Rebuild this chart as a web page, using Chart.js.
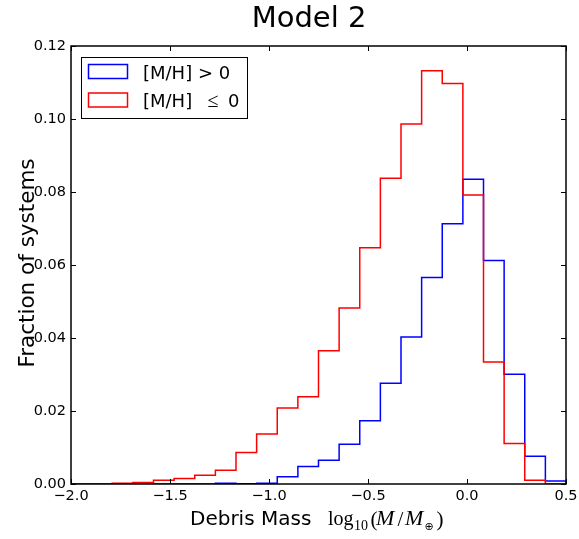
<!DOCTYPE html>
<html>
<head>
<meta charset="utf-8">
<script src="https://cdn.jsdelivr.net/npm/chart.js@4.4.0/dist/chart.umd.min.js"></script>
<style>
  body { margin: 0; background: #fff; }
  #wrap { width: 579px; height: 539px; }
</style>
</head>
<body>
<div id="wrap"><canvas id="massChart" width="579" height="539"></canvas></div>
<script>
// 24 equal bins in log10(M/Mearth) from -2.0 to 0.5
const binMin = -2.0;
const binMax = 0.5;
const binCount = 24;
const xTicks = [-2.0, -1.5, -1.0, -0.5, 0.0, 0.5];
const yTicks = [0.00, 0.02, 0.04, 0.06, 0.08, 0.10, 0.12];

// fraction of systems in each bin
const metalRich = [0, 0, 0, 0, 0, 0, 0, 0.0002, 0.0001, 0.0002, 0.0020, 0.0048,
  0.0065, 0.0109, 0.0173, 0.0276, 0.0403, 0.0566, 0.0713, 0.0835, 0.0612, 0.0301, 0.0076, 0.0008];
const metalPoor = [0, 0, 0.0002, 0.0004, 0.0010, 0.0015, 0.0024, 0.0038, 0.0086, 0.0137, 0.0208, 0.0239,
  0.0365, 0.0482, 0.0647, 0.0838, 0.0986, 0.1132, 0.1097, 0.0792, 0.0334, 0.0111, 0.0010, 0];

const binWidth = (binMax - binMin) / binCount;
const edges = Array.from({ length: binCount + 1 }, (_, i) => binMin + i * binWidth);

// outline of a step histogram: up from the baseline, across each bin, back down
function stepOutline(values) {
  const pts = [{ x: edges[0], y: 0 }];
  values.forEach((v, i) => pts.push({ x: edges[i], y: v }));
  pts.push({ x: edges[binCount], y: 0 });
  return pts;
}

const fmt = (v, d) => v.toFixed(d).replace('-', '\u2212');
const sans = 'DejaVu Sans';
const serif = 'Liberation Serif';

// inward ticks on all four sides plus the box
const axesFrame = {
  id: 'axesFrame',
  afterDatasetsDraw(chart) {
    const { ctx, chartArea: a, scales: { x, y } } = chart;
    ctx.save();
    ctx.strokeStyle = '#000';
    ctx.lineWidth = 1;
    ctx.beginPath();
    xTicks.forEach(v => {
      const px = Math.round(x.getPixelForValue(v)) + 0.5;
      ctx.moveTo(px, a.bottom); ctx.lineTo(px, a.bottom - 5);
      ctx.moveTo(px, a.top); ctx.lineTo(px, a.top + 5);
    });
    yTicks.forEach(v => {
      const py = Math.round(y.getPixelForValue(v)) + 0.5;
      ctx.moveTo(a.left, py); ctx.lineTo(a.left + 5, py);
      ctx.moveTo(a.right, py); ctx.lineTo(a.right - 5, py);
    });
    ctx.stroke();
    ctx.lineWidth = 1.5;
    ctx.strokeRect(a.left, a.top, a.right - a.left, a.bottom - a.top);
    ctx.restore();
  }
};

// x label pieces: words in sans, then log10(M/M_earth) set like TeX
const xLabelParts = [
  { t: 'Debris Mass', f: `20px "${sans}"`, dx: 0, dy: 0 },
  { t: 'log', f: `20px "${serif}"`, dx: 138, dy: 0 },
  { t: '10', f: `14px "${serif}"`, dx: 164, dy: 4.5 },
  { t: '(', f: `21px "${serif}"`, dx: 180.5, dy: 1 },
  { t: 'M', f: `italic 22px "${serif}"`, dx: 186, dy: 0 },
  { t: '/', f: `21px "${serif}"`, dx: 207.5, dy: 1 },
  { t: 'M', f: `italic 22px "${serif}"`, dx: 215, dy: 0 },
  { t: '\u2295', f: `11px "${sans}"`, dx: 234.5, dy: 5 },
  { t: ')', f: `21px "${serif}"`, dx: 246.5, dy: 1 }
];

// title, axis labels and legend
const annotations = {
  id: 'annotations',
  afterDraw(chart) {
    const { ctx, chartArea: a } = chart;
    ctx.save();
    ctx.fillStyle = '#000';

    ctx.font = `29px "${sans}"`;
    ctx.textAlign = 'center';
    ctx.textBaseline = 'alphabetic';
    ctx.fillText('Model 2', 309, 27);

    // y label
    ctx.save();
    ctx.translate(33.5, 263);
    ctx.rotate(-Math.PI / 2);
    ctx.font = `21.5px "${sans}"`;
    ctx.fillText('Fraction of systems', 0, 0);
    ctx.restore();

    // x label
    ctx.textAlign = 'left';
    const x0 = (a.left + a.right) / 2 - 128.5;
    xLabelParts.forEach(p => {
      ctx.font = p.f;
      ctx.fillText(p.t, x0 + p.dx, 525 + p.dy);
    });

    // legend
    ctx.lineWidth = 1;
    ctx.strokeStyle = '#000';
    ctx.strokeRect(81.5, 57.5, 166, 61);
    ctx.lineWidth = 1.5;
    ctx.strokeStyle = '#0000ff';
    ctx.strokeRect(88.5, 64.5, 39, 14);
    ctx.strokeStyle = '#ff0000';
    ctx.strokeRect(88.5, 93, 39, 14);
    ctx.font = `18px "${sans}"`;
    ctx.fillText('[M/H] > 0', 143, 78.5);
    ctx.fillText('[M/H]', 143, 107);
    ctx.font = `20px "${serif}"`;
    ctx.fillText('\u2264', 207.5, 107);
    ctx.font = `18px "${sans}"`;
    ctx.fillText('0', 228, 107);
    ctx.restore();
  }
};

const tickFont = { family: sans, size: 14.5 };

new Chart(document.getElementById('massChart'), {
  type: 'line',
  data: {
    datasets: [
      {
        label: '[M/H] > 0',
        data: stepOutline(metalRich),
        borderColor: '#0000ff',
        borderWidth: 1.5,
        stepped: true,
        pointRadius: 0,
        fill: false,
        order: 2
      },
      {
        label: '[M/H] \u2264 0',
        data: stepOutline(metalPoor),
        borderColor: '#ff0000',
        borderWidth: 1.5,
        stepped: true,
        pointRadius: 0,
        fill: false,
        order: 1
      }
    ]
  },
  options: {
    responsive: false,
    animation: false,
    layout: { padding: { top: 46, right: 13, left: 0, bottom: 0 } },
    plugins: {
      legend: { display: false },
      tooltip: { enabled: false }
    },
    scales: {
      x: {
        type: 'linear',
        min: binMin,
        max: binMax,
        afterBuildTicks: s => { s.ticks = xTicks.map(v => ({ value: v })); },
        afterFit: s => { s.height = 55; s.paddingLeft = 0; s.paddingRight = 0; },
        grid: { display: false, drawTicks: false },
        border: { display: false },
        ticks: { font: tickFont, color: '#000', padding: 4, maxRotation: 0, autoSkip: false,
          callback: v => fmt(v, 1) }
      },
      y: {
        min: 0,
        max: 0.12,
        afterBuildTicks: s => { s.ticks = yTicks.map(v => ({ value: v })); },
        afterFit: s => { s.width = 71; s.paddingTop = 0; s.paddingBottom = 0; },
        grid: { display: false, drawTicks: false },
        border: { display: false },
        ticks: { font: tickFont, color: '#000', padding: 5, callback: v => fmt(v, 2) }
      }
    }
  },
  plugins: [axesFrame, annotations]
});
</script>
</body>
</html>
